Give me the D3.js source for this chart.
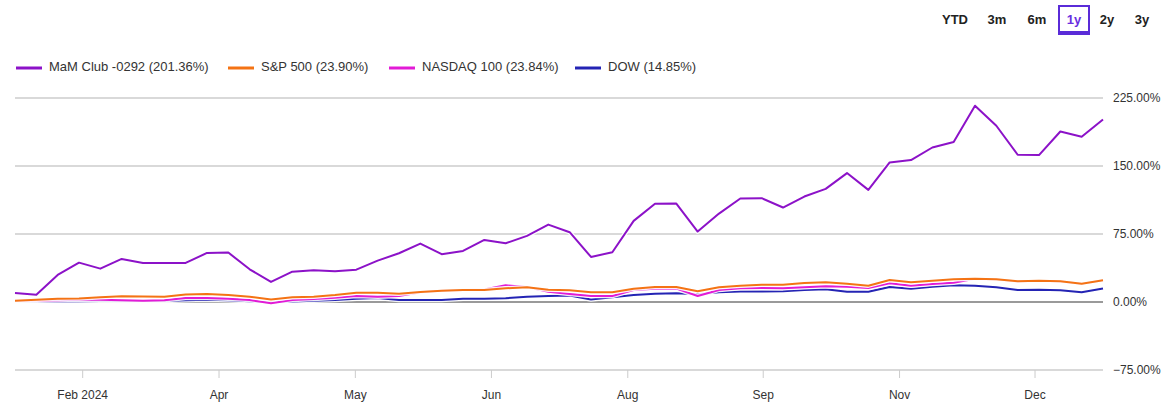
<!DOCTYPE html>
<html><head><meta charset="utf-8">
<script src="https://cdn.jsdelivr.net/npm/d3@7"></script>
<style>
body{margin:0;background:#fff;}
svg{display:block;font-family:"Liberation Sans",Arial,sans-serif;}
</style>
</head><body>
<svg id="chart" width="1161" height="405"></svg>
<script>
// ---- data ----
const seriesNames = ["MaM Club -0292 (201.36%)", "S&P 500 (23.90%)", "NASDAQ 100 (23.84%)", "DOW (14.85%)"];
const seriesColors = ["#8c12c8", "#f47314", "#e21bd6", "#2424b4"];
const mam = [9.9, 8.1, 29.8, 43.4, 36.8, 47.5, 43.1, 43.1, 43.1, 54.1, 54.5, 36.1, 22.1, 33.5, 35.0, 33.9,
  35.7, 45.6, 53.8, 64.4, 52.7, 56.3, 68.5, 64.8, 72.9, 85.4, 77.0, 49.7, 54.9, 89.5, 108.3, 108.6,
  77.7, 97.5, 114.1, 114.5, 104.2, 116.3, 124.8, 142.2, 123.7, 153.9, 156.5, 170.4, 176.4, 216.5,
  194.4, 162.4, 162.0, 188.1, 182.3, 201.36];
const sp500 = [1.4, 2.5, 3.6, 3.9, 5.2, 6.3, 6.1, 5.7, 8.3, 8.8, 7.7, 5.9, 2.8, 5.2, 5.9, 7.7,
  10.3, 10.3, 9.2, 11.0, 12.5, 13.3, 13.3, 15.1, 16.2, 13.6, 12.9, 10.7, 10.7, 14.7, 16.6, 16.6,
  11.8, 16.2, 18.0, 19.0, 19.1, 21.0, 21.8, 20.2, 18.0, 24.3, 21.8, 23.5, 25.1, 25.7,
  25.1, 22.9, 23.5, 22.9, 20.2, 23.90];
const nasdaq = [1.0, 1.5, 2.0, 2.5, 2.5, 2.0, 1.5, 2.0, 4.5, 4.5, 3.5, 2.2, -1.5, 2.2, 3.3, 4.8,
  6.6, 5.9, 6.5, 10.8, 12.3, 13.1, 13.8, 18.4, 16.5, 11.2, 8.7, 6.6, 6.6, 13.3, 14.7, 14.7,
  6.6, 13.3, 15.1, 15.5, 15.1, 16.2, 17.3, 16.9, 15.5, 20.6, 17.9, 19.9, 21.3, 25.5,
  24.9, 22.7, 23.3, 22.7, 20.0, 23.84];
const dow = [0.5, 0.3, 0.5, 0.8, 1.0, 1.5, 1.2, 1.0, 2.0, 2.5, 2.0, 0.8, -0.3, 0.5, 1.5, 2.2,
  3.5, 4.4, 2.2, 2.2, 2.2, 3.6, 3.6, 4.1, 5.9, 6.6, 7.2, 2.8, 5.2, 7.7, 9.2, 9.6,
  8.5, 10.7, 11.6, 11.6, 11.8, 13.3, 14.0, 11.4, 11.4, 16.6, 14.7, 16.9, 18.4, 18.0,
  16.2, 13.3, 13.6, 12.9, 10.7, 14.85];
const weeks = d3.range(mam.length);              // weekly observations, index 0..51
const xTickWeeks = [3.15, 9.54, 15.93, 22.31, 28.7, 35.05, 41.44, 47.79];
const xTickLabels = ["Feb 2024", "Apr", "May", "Jun", "Aug", "Sep", "Nov", "Dec"];
const yTicks = [-75, 0, 75, 150, 225];
const rangeButtons = ["YTD", "3m", "6m", "1y", "2y", "3y"];
const activeButton = "1y";

// ---- layout ----
const svg = d3.select("#chart");
const x = d3.scaleLinear().domain([0, weeks.length - 1]).range([15, 1103]);
const y = d3.scaleLinear().domain([-75, 225]).range([370, 98]);

// range buttons
const btnX = [955, 997, 1037, 1074, 1107, 1142];
const bg = svg.append("g");
rangeButtons.forEach((b, i) => {
  if (b === activeButton) {
    bg.append("rect").attr("x", btnX[i] - 15).attr("y", 6).attr("width", 30).attr("height", 28)
      .attr("fill", "none").attr("stroke", "#5a2bd8").attr("stroke-width", 2);
    bg.append("rect").attr("x", btnX[i] - 16).attr("y", 31).attr("width", 32).attr("height", 4)
      .attr("fill", "#5a2bd8");
  }
  bg.append("text").attr("x", btnX[i]).attr("y", 21).attr("text-anchor", "middle")
    .attr("dominant-baseline", "middle").attr("font-size", 13).attr("font-weight", 600)
    .attr("fill", b === activeButton ? "#6a2fe0" : "#222").text(b);
});

// legend
const legX = [16, 228, 389, 575];
const lg = svg.append("g");
seriesNames.forEach((n, i) => {
  lg.append("line").attr("x1", legX[i]).attr("x2", legX[i] + 26).attr("y1", 68).attr("y2", 68)
    .attr("stroke", seriesColors[i]).attr("stroke-width", 3);
  lg.append("text").attr("x", legX[i] + 33).attr("y", 68).attr("dominant-baseline", "middle")
    .attr("font-size", 13).attr("fill", "#333").attr("textLength", null).text(n);
});

// grid + y axis labels
const grid = svg.append("g");
yTicks.forEach(t => {
  grid.append("line").attr("x1", 15).attr("x2", 1103).attr("y1", y(t)).attr("y2", y(t))
    .attr("stroke", t === 0 ? "#9a9a9a" : "#cccccc").attr("stroke-width", t === 0 ? 2 : 1.5);
});
const yAxis = d3.axisRight(y).tickValues(yTicks).tickSize(0).tickPadding(10)
  .tickFormat(d => d3.format(".2f")(d) + "%");
svg.append("g").attr("transform", "translate(1103,0)").call(yAxis)
  .call(g => g.select(".domain").remove())
  .call(g => g.selectAll("text").attr("font-size", 12).attr("fill", "#333")
    .attr("font-family", "'Liberation Sans',Arial,sans-serif"));

// x axis
const xAxis = d3.axisBottom(x).tickValues(xTickWeeks).tickSize(8).tickPadding(12)
  .tickFormat((d, i) => xTickLabels[i]);
svg.append("g").attr("transform", `translate(0,${y(-75)})`).call(xAxis)
  .call(g => g.select(".domain").remove())
  .call(g => g.selectAll(".tick line").attr("stroke", "#cccccc"))
  .call(g => g.selectAll("text").attr("font-size", 12).attr("fill", "#333")
    .attr("font-family", "'Liberation Sans',Arial,sans-serif"));

// lines (drawn bottom-up: DOW, NASDAQ, S&P, MaM)
const allSeries = [mam, sp500, nasdaq, dow];
const line = d3.line().x((d, i) => x(weeks[i])).y(d => y(d));
const lg2 = svg.append("g");
[3, 2, 1, 0].forEach(i => {
  lg2.append("path").datum(allSeries[i]).attr("d", line).attr("fill", "none")
    .attr("stroke", "#fff").attr("stroke-width", 4.5).attr("stroke-linejoin", "round").attr("opacity", 0.9);
  lg2.append("path").datum(allSeries[i]).attr("d", line).attr("fill", "none")
    .attr("stroke", seriesColors[i]).attr("stroke-width", 2).attr("stroke-linejoin", "round");
});
</script>
</body></html>
